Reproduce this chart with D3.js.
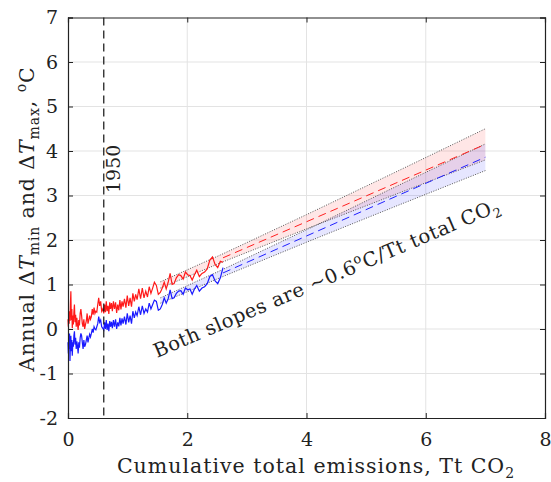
<!DOCTYPE html>
<html><head><meta charset="utf-8">
<script src="https://cdn.jsdelivr.net/npm/d3@7"></script>
<style>body{margin:0;background:#fff}svg{display:block}text{font-family:"DejaVu Serif",serif;fill:#222}</style>
</head><body>
<svg id="c" width="551" height="482"></svg>
<script>
// cumulative total emissions (Tt CO2), 1850-1948 every 2 yrs, 1950-2020 annual
const cumEmissions = [0.000,0.006,0.012,0.019,0.026,0.033,0.040,0.048,0.056,0.064,0.072,0.081,0.090,0.099,0.108,0.118,0.128,0.138,0.148,0.159,0.170,0.181,0.192,0.204,0.216,0.228,0.240,0.253,0.266,0.279,0.293,0.307,0.321,0.335,0.349,0.363,0.377,0.392,0.407,0.422,0.437,0.452,0.467,0.483,0.499,0.515,0.531,0.548,0.565,0.582,0.600,
0.614,0.628,0.642,0.656,0.671,0.685,0.700,0.714,0.729,0.744,
0.762,0.780,0.798,0.816,0.834,0.852,0.870,0.888,0.906,0.924,
0.947,0.971,0.994,1.018,1.041,1.065,1.088,1.112,1.135,1.159,
1.188,1.217,1.246,1.275,1.304,1.333,1.362,1.391,1.420,1.449,
1.482,1.515,1.548,1.581,1.614,1.647,1.680,1.713,1.746,1.779,
1.817,1.855,1.893,1.931,1.969,2.007,2.045,2.083,2.121,2.159,
2.203,2.247,2.291,2.335,2.379,2.423,2.467,2.511,2.555,2.600];
const dTmax = [0.22,0.05,0.30,0.12,0.40,0.18,0.55,0.85,0.20,0.45,0.02,0.30,0.10,0.38,0.55,0.15,0.32,0.05,0.25,0.10,-0.02,0.20,0.08,0.35,0.45,0.30,0.12,0.05,0.22,0.00,0.10,0.18,0.35,0.12,0.20,0.30,0.22,0.28,0.45,0.32,0.48,0.35,0.40,0.38,0.55,0.70,0.52,0.62,0.40,0.45,0.35,
0.55,0.38,0.62,0.40,0.52,0.34,0.60,0.45,0.58,0.40,
0.62,0.45,0.60,0.36,0.55,0.42,0.65,0.44,0.62,0.50,
0.68,0.48,0.75,0.52,0.70,0.50,0.80,0.62,0.78,0.66,
0.90,0.68,0.92,0.70,0.85,0.72,0.95,0.80,0.92,1.05,
0.98,0.78,0.82,0.92,1.05,0.90,1.05,1.25,1.00,1.02,
1.15,1.22,1.20,1.12,1.28,1.22,1.20,1.10,1.22,1.32,
1.18,1.25,1.28,1.35,1.55,1.62,1.45,1.38,1.52,1.50];
const dTmin = [-0.30,-0.55,-0.20,-0.45,-0.10,-0.72,-0.35,-0.15,-0.50,-0.25,-0.60,-0.30,-0.40,-0.15,-0.05,-0.35,-0.20,-0.45,-0.28,-0.38,-0.55,-0.30,-0.42,-0.20,-0.10,-0.15,-0.30,-0.45,-0.25,-0.40,-0.35,-0.25,-0.15,-0.30,-0.20,-0.12,-0.18,-0.10,0.00,-0.08,0.05,0.00,-0.02,0.05,0.12,0.28,0.15,0.20,0.05,0.02,-0.02,
0.15,0.00,0.20,-0.02,0.12,-0.05,0.18,0.05,0.16,0.02,
0.20,0.05,0.22,0.00,0.15,0.06,0.25,0.08,0.24,0.12,
0.28,0.10,0.35,0.15,0.30,0.12,0.40,0.25,0.38,0.30,
0.50,0.32,0.52,0.35,0.45,0.38,0.58,0.45,0.55,0.65,
0.62,0.42,0.45,0.55,0.70,0.58,0.68,0.88,0.68,0.70,
0.80,0.85,0.86,0.78,0.92,0.88,0.90,0.78,0.90,0.98,
0.85,0.92,0.95,1.02,1.18,1.22,1.08,1.02,1.15,1.38];
// linear fits and confidence bands
const fitX = [1.55, 2.6, 4, 5.5, 7];
const fitMax = [0.99, 1.60, 2.41, 3.28, 4.15];
const bandMaxHi = [1.06, 1.69, 2.57, 3.53, 4.50];
const bandMaxLo = [0.92, 1.51, 2.25, 3.03, 3.80];
const fitMin = [0.64, 1.26, 2.09, 2.98, 3.86];
const bandMinHi = [0.70, 1.34, 2.23, 3.20, 4.16];
const bandMinLo = [0.58, 1.18, 1.95, 2.76, 3.56];
const xTicks = [0, 2, 4, 6, 8];
const yTicks = [-2, -1, 0, 1, 2, 3, 4, 5, 6, 7];
const year1950X = 0.6;

const svg = d3.select("#c");
const L = 68, R = 545, T = 17.5, B = 418;
const x = d3.scaleLinear().domain([0, 8]).range([L, R]);
const y = d3.scaleLinear().domain([-2, 7]).range([B, T]);

// grid
svg.append("g").selectAll("line").data(xTicks.slice(1, -1)).join("line")
  .attr("x1", d => x(d)).attr("x2", d => x(d)).attr("y1", T).attr("y2", B)
  .attr("stroke", "#e3e3e3").attr("stroke-width", 1);
svg.append("g").selectAll("line").data(yTicks.slice(1, -1)).join("line")
  .attr("y1", d => y(d)).attr("y2", d => y(d)).attr("x1", L).attr("x2", R)
  .attr("stroke", "#e3e3e3").attr("stroke-width", 1);

// bands
function band(hi, lo, fill) {
  const a = d3.area().x((d, i) => x(fitX[i])).y0((d, i) => y(lo[i])).y1((d, i) => y(hi[i]));
  svg.append("path").datum(fitX).attr("d", a).attr("fill", fill).attr("stroke", "none");
}
band(bandMaxHi, bandMaxLo, "rgba(255,60,60,0.13)");
band(bandMinHi, bandMinLo, "rgba(60,60,255,0.13)");
const ln = arr => d3.line().x((d, i) => x(fitX[i])).y((d, i) => y(arr[i]));
[bandMaxHi, bandMaxLo, bandMinHi, bandMinLo].forEach(b => {
  svg.append("path").datum(fitX).attr("d", ln(b)).attr("fill", "none")
    .attr("stroke", "#555").attr("stroke-width", 1).attr("stroke-dasharray", "1,1.5");
});

// data lines
const dl = arr => d3.line().x((d, i) => x(cumEmissions[i])).y((d, i) => y(arr[i]));
svg.append("path").datum(dTmax).attr("d", dl(dTmax)).attr("fill", "none").attr("stroke", "#ff1a1a").attr("stroke-width", 1.2);
svg.append("path").datum(dTmin).attr("d", dl(dTmin)).attr("fill", "none").attr("stroke", "#1a1aff").attr("stroke-width", 1.2);

// fit lines (dashed beyond data)
const fitLine = arr => d3.line().x(d => x(d.x)).y(d => y(d.y))(fitX.map((v, i) => ({x: v, y: arr[i]})).filter(d => d.x >= 2.6));
svg.append("path").attr("d", fitLine(fitMax)).attr("fill", "none").attr("stroke", "#ff2020").attr("stroke-width", 1).attr("stroke-dasharray", "8,5");
svg.append("path").attr("d", fitLine(fitMin)).attr("fill", "none").attr("stroke", "#2020ff").attr("stroke-width", 1).attr("stroke-dasharray", "8,5");

// 1950 line
svg.append("line").attr("x1", x(year1950X)).attr("x2", x(year1950X)).attr("y1", T).attr("y2", B)
  .attr("stroke", "#111").attr("stroke-width", 1.2).attr("stroke-dasharray", "8,5");
svg.append("text").attr("transform", `translate(${x(year1950X) + 16},${y(3.6)}) rotate(-90)`)
  .attr("text-anchor", "middle").attr("font-size", 19).text("1950");

// axes
const ax = svg.append("g");
ax.append("g").attr("transform", `translate(0,${B})`)
  .call(d3.axisBottom(x).tickValues(xTicks).tickSize(-5).tickPadding(15).tickFormat(d => String(d)));
ax.append("g").attr("transform", `translate(0,${T})`)
  .call(d3.axisTop(x).tickValues(xTicks).tickSize(-5).tickFormat(""));
ax.append("g").attr("transform", `translate(${L},0)`)
  .call(d3.axisLeft(y).tickValues(yTicks).tickSize(-5).tickPadding(10).tickFormat(d => String(d)));
ax.append("g").attr("transform", `translate(${R},0)`)
  .call(d3.axisRight(y).tickValues(yTicks).tickSize(-5).tickFormat(""));
ax.selectAll(".domain").attr("stroke", "#222").attr("stroke-width", 1.2);
ax.selectAll(".tick line").attr("stroke", "#222");
ax.selectAll(".tick text").attr("font-family", "DejaVu Serif").attr("font-size", 19).attr("fill", "#222");

// x label
const xl = svg.append("text").attr("x", 316).attr("y", 473).attr("text-anchor", "middle")
  .attr("font-size", 20.5).attr("letter-spacing", 1);
xl.append("tspan").text("Cumulative total emissions, Tt CO");
xl.append("tspan").attr("font-size", 14).attr("dy", 5).text("2");

// y label
const yl = svg.append("text").attr("transform", `translate(34,${219}) rotate(-90)`).attr("text-anchor", "middle")
  .attr("font-size", 20.5).attr("letter-spacing", 0.9);
yl.append("tspan").text("Annual Δ");
yl.append("tspan").attr("font-style", "italic").text("T");
yl.append("tspan").attr("font-size", 14).attr("dy", 5).text("min");
yl.append("tspan").attr("dy", -5).text(" and Δ");
yl.append("tspan").attr("font-style", "italic").text("T");
yl.append("tspan").attr("font-size", 14).attr("dy", 5).text("max");
yl.append("tspan").attr("dy", -5).text(", ");
yl.append("tspan").attr("font-size", 14).attr("dy", -8).text("o");
yl.append("tspan").attr("dy", 8).text("C");

// annotation
const an = svg.append("text").attr("transform", `translate(157,358) rotate(-23.2)`)
  .attr("font-size", 19.5).attr("letter-spacing", 0.6);
an.append("tspan").text("Both slopes are ∼0.6");
an.append("tspan").attr("font-size", 13).attr("dy", -8).text("o");
an.append("tspan").attr("dy", 8).text("C/Tt total CO");
an.append("tspan").attr("font-size", 13).attr("dy", 5).text("2");
</script>
</body></html>
